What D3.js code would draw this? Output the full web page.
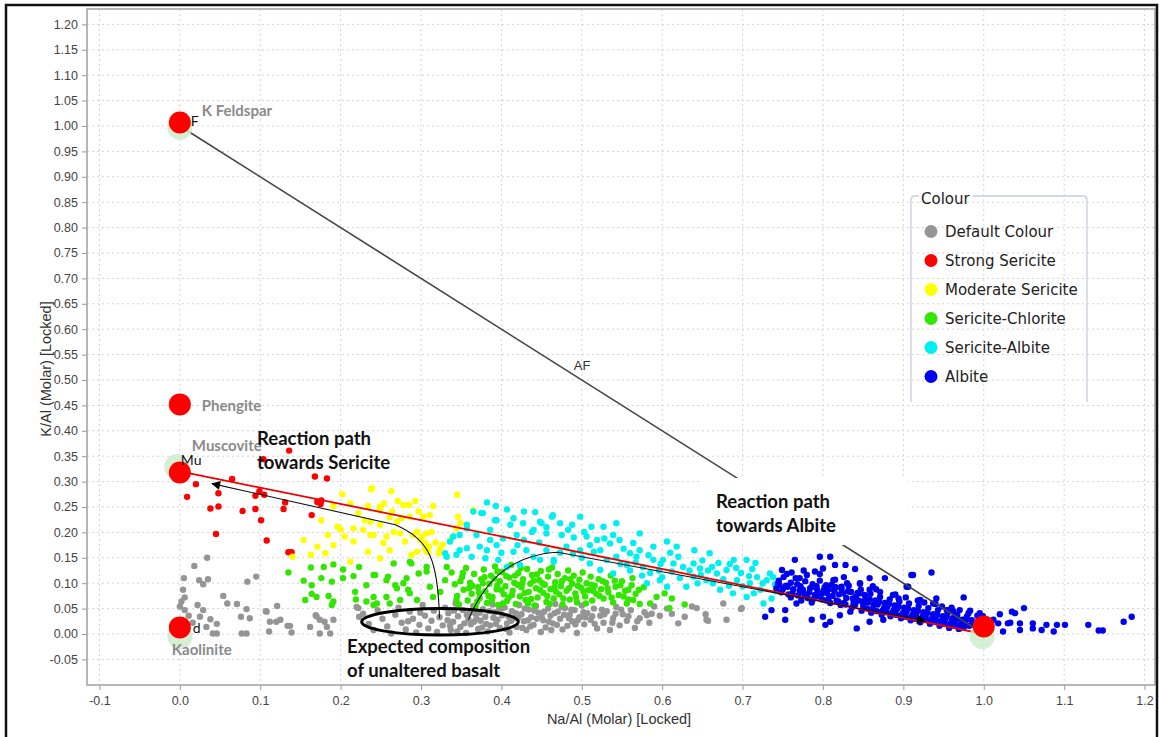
<!DOCTYPE html>
<html>
<head>
<meta charset="utf-8">
<script src="https://cdn.jsdelivr.net/npm/d3@7"></script>
<style>
  body { margin: 0; background: #fff; }
  svg { display: block; }
</style>
</head>
<body>
<svg id="chart" width="1159" height="737"></svg>
<script>
// tick labels
const xTicks = [-0.1, 0.0, 0.1, 0.2, 0.3, 0.4, 0.5, 0.6, 0.7, 0.8, 0.9, 1.0, 1.1, 1.2]
const yTicks = [-0.05, 0.00, 0.05, 0.10, 0.15, 0.20, 0.25, 0.30, 0.35, 0.40, 0.45, 0.50, 0.55,
  0.60, 0.65, 0.70, 0.75, 0.80, 0.85, 0.90, 0.95, 1.00, 1.05, 1.10, 1.15, 1.20]

// legend categories
const categories = ['Default Colour', 'Strong Sericite', 'Moderate Sericite', 'Sericite-Chlorite', 'Sericite-Albite', 'Albite']
const colours = ['#959595', '#ff0000', '#ffff00', '#33e600', '#00f0f0', '#0000ee']

// end members [name, code, x, y]
const minerals = [
  ['K Feldspar', 'F', 0.0, 1.007],
  ['Phengite', '', 0.0, 0.452],
  ['Muscovite', 'Mu', 0.0, 0.318],
  ['Kaolinite', 'd', 0.0, 0.013],
  ['', '', 1.0, 0.015]
]
// ideal positions (pale halo under the red markers)
const halos = [[0.0, 0.997], [-0.004, 0.329], [0.0, -0.005], [0.998, -0.005]]

const defaultPts = [
  [0.034,0.150],[0.018,0.134],[0.005,0.110],[0.024,0.106],[0.029,0.098],[0.035,0.108],[0.004,0.087],[0.006,0.072],
  [0.002,0.064],[0.000,0.054],[0.006,0.047],[0.022,0.057],[0.029,0.047],[0.025,0.034],[0.038,0.029],[0.046,0.020],
  [0.033,0.014],[0.041,0.001],[0.046,0.001],[0.054,0.075],[0.059,0.060],[0.071,0.059],[0.084,0.103],[0.095,0.113],
  [0.083,0.049],[0.076,0.034],[0.087,0.031],[0.077,0.001],[0.083,0.001],[0.108,0.044],[0.112,0.024],[0.111,0.005],
  [0.121,0.055],[0.120,0.024],[0.125,0.028],[0.134,0.016],[0.139,0.003],[0.169,0.037],[0.162,0.014],[0.180,0.024],
  [0.183,0.014],[0.174,0.001],[0.187,0.001],[0.220,0.053],[0.223,0.034],[0.107,0.045],[0.137,0.016],[0.170,0.035],
  [0.174,0.028],[0.191,0.028],[0.222,0.051],[0.016,0.022],[0.011,0.036],
  [0.228,0.040],[0.235,0.020],[0.241,0.008],[0.246,0.047],[0.252,0.030],[0.258,0.015],[0.263,0.001],[0.268,0.038],
  [0.272,0.052],[0.276,0.022],[0.281,0.009],[0.286,0.044],[0.290,0.030],[0.294,0.003],[0.298,0.018],[0.302,0.057],
  [0.305,0.036],[0.309,0.011],[0.313,0.026],[0.316,0.046],[0.320,0.004],[0.323,0.033],[0.327,0.017],[0.330,0.052],
  [0.334,0.041],[0.337,0.008],[0.340,0.024],[0.343,0.060],[0.346,0.035],[0.349,0.014],[0.352,0.047],[0.356,0.002],
  [0.359,0.029],[0.362,0.019],[0.365,0.055],[0.368,0.040],[0.371,0.010],[0.374,0.026],[0.377,0.049],[0.380,0.034],
  [0.383,0.005],[0.386,0.017],[0.389,0.058],[0.392,0.043],[0.395,0.028],[0.398,0.012],[0.401,0.037],[0.404,0.052],
  [0.407,0.021],[0.410,0.003],[0.413,0.045],[0.416,0.031],[0.419,0.014],[0.422,0.057],[0.425,0.039],[0.428,0.025],
  [0.431,0.008],[0.434,0.048],[0.437,0.033],[0.440,0.018],[0.443,0.055],[0.446,0.042],[0.449,0.004],[0.452,0.027],
  [0.455,0.013],[0.458,0.050],[0.461,0.036],[0.464,0.021],[0.467,0.059],[0.470,0.044],[0.473,0.030],[0.476,0.009],
  [0.479,0.051],[0.482,0.016],[0.485,0.038],[0.488,0.025],[0.491,0.047],[0.494,0.002],[0.497,0.033],[0.500,0.056],
  [0.503,0.019],[0.507,0.041],[0.511,0.028],[0.515,0.050],[0.519,0.011],[0.523,0.036],[0.527,0.022],[0.531,0.045],
  [0.535,0.008],[0.539,0.031],[0.543,0.053],[0.547,0.017],[0.551,0.039],[0.556,0.026],[0.561,0.047],[0.566,0.012],
  [0.572,0.031],[0.578,0.043],[0.584,0.022],[0.590,0.054],[0.597,0.036],[0.581,0.037],[0.637,0.054],[0.643,0.051],
  [0.655,0.028],[0.676,0.060],[0.699,0.051],[0.654,0.039],[0.657,0.026],[0.680,0.028],[0.698,0.049],[0.612,0.040],
  [0.620,0.021],[0.606,0.050],[0.628,0.034],[0.333,0.027],[0.341,0.046],[0.354,0.021],[0.361,0.042],[0.369,0.030],
  [0.376,0.013],[0.385,0.045],[0.393,0.020],[0.400,0.050],[0.409,0.034],[0.418,0.041],[0.426,0.012],[0.433,0.027],
  [0.441,0.046],[0.450,0.035],[0.459,0.024],[0.466,0.041],[0.475,0.053],[0.484,0.031],[0.492,0.019],[0.502,0.043],
  [0.513,0.035],[0.525,0.048],[0.542,0.040],
  [0.336,0.016],[0.345,0.005],[0.357,0.038],[0.366,0.024],[0.373,0.042],[0.381,0.020],[0.390,0.032],[0.397,0.047],
  [0.406,0.010],[0.412,0.026],[0.421,0.033],[0.429,0.050],[0.436,0.015],[0.444,0.030],[0.453,0.044],[0.462,0.008],
  [0.469,0.018],[0.478,0.038],[0.487,0.048],[0.495,0.027],[0.504,0.033],[0.516,0.020],[0.528,0.039],[0.538,0.022],
  [0.549,0.048],[0.558,0.035],[0.569,0.025],[0.587,0.040],[0.299,0.042],[0.284,0.025]
]

const strongPts = [
  [0.136,0.361],[0.104,0.344],[0.168,0.310],[0.183,0.306],[0.065,0.305],[0.020,0.295],[0.009,0.270],[0.048,0.277],
  [0.038,0.247],[0.048,0.251],[0.078,0.242],[0.094,0.246],[0.094,0.272],[0.099,0.281],[0.105,0.274],[0.101,0.224],
  [0.131,0.259],[0.129,0.246],[0.171,0.260],[0.175,0.256],[0.164,0.234],[0.045,0.197],[0.108,0.184],[0.135,0.161],
  [0.139,0.161],[0.176,0.263]
]

const moderatePts = [
  [0.202,0.275],[0.238,0.285],[0.263,0.281],[0.212,0.257],[0.234,0.252],[0.254,0.257],[0.293,0.262],[0.315,0.252],
  [0.285,0.254],[0.196,0.211],[0.200,0.206],[0.216,0.208],[0.230,0.224],[0.249,0.215],[0.261,0.230],[0.276,0.228],
  [0.266,0.201],[0.290,0.195],[0.301,0.192],[0.305,0.179],[0.310,0.172],[0.309,0.161],[0.184,0.195],[0.205,0.192],
  [0.216,0.182],[0.237,0.195],[0.280,0.182],[0.295,0.162],[0.154,0.185],[0.163,0.156],[0.171,0.172],[0.181,0.159],
  [0.191,0.175],[0.212,0.142],[0.176,0.224],[0.297,0.241],[0.303,0.231],[0.140,0.152],[0.249,0.251],[0.191,0.252],
  [0.239,0.287],[0.345,0.274],[0.278,0.254],[0.249,0.244],[0.264,0.241],[0.286,0.231],[0.237,0.221],[0.270,0.221],
  [0.311,0.234],[0.346,0.231],[0.349,0.218],[0.344,0.208],[0.228,0.205],[0.241,0.195],[0.257,0.192],[0.274,0.198],
  [0.295,0.201],[0.307,0.198],[0.313,0.201],[0.253,0.179],[0.299,0.185],[0.305,0.169],[0.307,0.162],[0.324,0.169],
  [0.322,0.159],[0.234,0.162],[0.261,0.165],[0.288,0.156],[0.249,0.149],[0.338,0.188],[0.365,0.244],[0.318,0.180],
  [0.327,0.176],[0.222,0.238],[0.271,0.262]
]

const chloritePts = [
  [0.135,0.121],[0.163,0.131],[0.179,0.132],[0.191,0.137],[0.203,0.127],[0.223,0.132],[0.154,0.105],[0.164,0.096],
  [0.176,0.110],[0.189,0.103],[0.203,0.110],[0.216,0.114],[0.156,0.067],[0.164,0.079],[0.170,0.073],[0.185,0.075],
  [0.191,0.064],[0.218,0.083],[0.219,0.068],[0.189,0.057],[0.232,0.096],[0.241,0.116],[0.257,0.106],[0.268,0.096],
  [0.278,0.100],[0.284,0.087],[0.232,0.064],[0.245,0.060],[0.257,0.073],[0.274,0.067],[0.266,0.139],[0.286,0.142],
  [0.307,0.123],[0.297,0.119],[0.311,0.093],[0.315,0.073],[0.324,0.083],[0.330,0.106],[0.332,0.132],[0.243,0.116],
  [0.259,0.113],[0.282,0.110],[0.270,0.090],[0.286,0.080],[0.241,0.073],[0.295,0.067],[0.241,0.057],[0.261,0.060],
  [0.288,0.139],[0.307,0.132],
  [0.338,0.121],[0.342,0.098],[0.345,0.075],[0.347,0.058],[0.351,0.112],[0.353,0.087],[0.356,0.130],[0.358,0.066],
  [0.361,0.101],[0.363,0.079],[0.366,0.118],[0.368,0.055],[0.371,0.092],[0.373,0.071],[0.375,0.108],[0.378,0.127],
  [0.380,0.084],[0.382,0.061],[0.385,0.099],[0.387,0.115],[0.389,0.073],[0.392,0.133],[0.394,0.088],[0.396,0.057],
  [0.398,0.104],[0.401,0.122],[0.403,0.078],[0.405,0.094],[0.407,0.065],[0.410,0.111],[0.412,0.136],[0.414,0.085],
  [0.416,0.101],[0.418,0.059],[0.421,0.120],[0.423,0.074],[0.425,0.092],[0.427,0.108],[0.430,0.067],[0.432,0.128],
  [0.434,0.083],[0.436,0.099],[0.438,0.116],[0.441,0.056],[0.443,0.090],[0.445,0.072],[0.447,0.106],[0.449,0.124],
  [0.452,0.081],[0.454,0.097],[0.456,0.063],[0.458,0.113],[0.461,0.088],[0.463,0.131],[0.465,0.070],[0.467,0.102],
  [0.470,0.118],[0.472,0.078],[0.474,0.094],[0.476,0.058],[0.479,0.110],[0.481,0.085],[0.483,0.125],[0.485,0.068],
  [0.488,0.099],[0.490,0.115],[0.492,0.080],[0.494,0.062],[0.497,0.107],[0.499,0.091],[0.501,0.121],[0.504,0.074],
  [0.506,0.100],[0.508,0.086],[0.511,0.113],[0.513,0.066],[0.516,0.095],[0.518,0.079],[0.521,0.108],[0.524,0.088],
  [0.527,0.070],[0.530,0.101],[0.533,0.082],[0.536,0.115],[0.539,0.062],[0.542,0.093],[0.546,0.077],[0.550,0.104],
  [0.554,0.085],[0.558,0.068],[0.562,0.096],[0.567,0.079],[0.572,0.059],
  [0.349,0.104],[0.360,0.090],[0.370,0.064],[0.377,0.100],[0.384,0.075],[0.391,0.109],[0.400,0.086],[0.409,0.072],
  [0.417,0.115],[0.426,0.100],[0.433,0.060],[0.440,0.105],[0.448,0.087],[0.457,0.075],[0.466,0.092],[0.475,0.104],
  [0.484,0.090],[0.493,0.072],[0.502,0.084],[0.512,0.097],[0.522,0.075],[0.532,0.090],[0.541,0.105],[0.552,0.074],
  [0.563,0.110],[0.558,0.087],[0.564,0.067],[0.593,0.073],[0.603,0.080],[0.609,0.051],[0.585,0.060],[0.612,0.070],
  [0.628,0.058],[0.577,0.092],
  [0.344,0.067],[0.352,0.120],[0.364,0.095],[0.372,0.082],[0.379,0.112],[0.388,0.066],[0.395,0.096],[0.402,0.060],
  [0.406,0.114],[0.413,0.077],[0.420,0.097],[0.429,0.081],[0.437,0.069],[0.444,0.117],[0.451,0.100],[0.460,0.059],
  [0.468,0.083],[0.477,0.070],[0.486,0.108],[0.495,0.095],[0.505,0.060],[0.514,0.085],[0.526,0.104],[0.537,0.072],
  [0.548,0.096],[0.556,0.060],[0.571,0.087],[0.459,0.127],[0.424,0.130],[0.395,0.123]
]

const sericiteAlbitePts = [
  [0.382,0.259],[0.407,0.245],[0.442,0.240],[0.464,0.234],[0.375,0.238],[0.394,0.224],[0.411,0.215],[0.427,0.218],
  [0.448,0.221],[0.473,0.218],[0.483,0.205],[0.357,0.208],[0.369,0.195],[0.386,0.185],[0.402,0.188],[0.419,0.195],
  [0.438,0.201],[0.456,0.198],[0.340,0.192],[0.348,0.165],[0.332,0.152],[0.363,0.152],[0.382,0.165],[0.396,0.146],
  [0.415,0.162],[0.431,0.165],[0.448,0.146],[0.465,0.146],[0.481,0.172],[0.498,0.165],[0.512,0.211],[0.527,0.211],
  [0.506,0.192],[0.519,0.185],[0.539,0.195],[0.547,0.185],[0.523,0.165],[0.510,0.139],[0.531,0.146],[0.543,0.152],
  [0.560,0.159],[0.564,0.179],[0.572,0.165],[0.589,0.172],[0.606,0.182],[0.618,0.172],[0.523,0.126],[0.539,0.119],
  [0.556,0.136],[0.576,0.132],[0.589,0.146],[0.601,0.146],[0.614,0.139],[0.626,0.132],[0.639,0.139],[0.647,0.129],
  [0.581,0.100],[0.597,0.106],[0.606,0.093],[0.630,0.093],[0.639,0.113],[0.655,0.106],[0.668,0.119],[0.680,0.126],
  [0.689,0.146],[0.705,0.146],[0.693,0.106],[0.709,0.100],[0.672,0.087],[0.688,0.080],[0.705,0.073],[0.722,0.087],
  [0.730,0.106],[0.734,0.119],[0.726,0.060],[0.659,0.159],[0.543,0.218],[0.572,0.198],[0.498,0.231],
  [0.365,0.241],[0.377,0.238],[0.392,0.224],[0.357,0.215],[0.348,0.195],[0.336,0.182],[0.330,0.159],[0.344,0.156],
  [0.357,0.169],[0.373,0.172],[0.380,0.149],[0.394,0.175],[0.440,0.205],[0.450,0.218],[0.463,0.231],[0.440,0.152],
  [0.456,0.165],[0.465,0.142],[0.423,0.136],[0.407,0.132],
  [0.620,0.152],[0.634,0.125],[0.650,0.145],[0.662,0.132],[0.676,0.108],[0.684,0.138],[0.698,0.120],[0.712,0.128],
  [0.718,0.112],[0.700,0.094],[0.714,0.080],[0.740,0.098],[0.738,0.112],[0.663,0.100],[0.648,0.116],[0.612,0.123],
  [0.596,0.125],[0.583,0.155],[0.567,0.141],[0.552,0.168],[0.535,0.178],[0.490,0.190],[0.475,0.195],[0.500,0.150],
  [0.489,0.158],[0.515,0.162],[0.503,0.201],[0.428,0.241],[0.415,0.228],[0.393,0.252],[0.447,0.180],[0.428,0.185],
  [0.473,0.160],[0.742,0.084],[0.736,0.070],[0.640,0.165],[0.610,0.160],[0.598,0.138],[0.575,0.115],[0.560,0.125],
  [0.600,0.112],[0.622,0.110],[0.644,0.100],[0.657,0.125],[0.670,0.140],[0.692,0.130],[0.708,0.114],[0.725,0.100],
  [0.716,0.140],[0.683,0.095],[0.585,0.120],[0.568,0.152],[0.548,0.138],[0.528,0.188],[0.510,0.175],[0.488,0.215],
  [0.456,0.210],[0.420,0.175],[0.400,0.160],[0.386,0.205]
]

const albitePts = [
  [0.765,0.146],[0.749,0.126],[0.796,0.152],[0.809,0.152],[0.815,0.136],[0.800,0.129],[0.790,0.123],[0.828,0.136],
  [0.840,0.128],[0.780,0.116],[0.771,0.110],[0.761,0.121],[0.935,0.121],[0.910,0.116],[0.858,0.110],[0.877,0.110],
  [0.813,0.106],[0.830,0.100],[0.846,0.100],[0.975,0.072],[0.906,0.093],[0.941,0.070],[0.956,0.047],[0.970,0.047],
  [0.981,0.041],[0.995,0.041],[1.020,0.039],[1.035,0.044],[1.039,0.041],[1.050,0.051],[1.045,0.021],[1.061,0.021],
  [1.078,0.018],[1.087,0.005],[1.101,0.018],[1.130,0.018],[1.143,0.007],[1.174,0.024],[1.184,0.034],[1.072,0.008],
  [1.061,0.011],[1.024,0.005],[1.018,0.021],[1.030,0.021],[1.012,0.028],[1.045,0.008],[1.033,0.022],[1.091,0.018],
  [1.148,0.007],[0.979,0.034],[0.746,0.096],[0.775,0.087],[0.788,0.093],[0.804,0.096],[0.823,0.093],[0.834,0.083],
  [0.846,0.080],[0.858,0.087],[0.871,0.083],[0.887,0.077],[0.904,0.093],[0.921,0.067],[0.937,0.060],[0.954,0.047],
  [0.966,0.037],[0.736,0.047],[0.753,0.028],[0.753,0.047],[0.767,0.060],[0.786,0.028],[0.800,0.034],[0.809,0.024],
  [0.821,0.037],[0.834,0.044],[0.842,0.011],[0.858,0.024],[0.875,0.028],[0.728,0.034],[0.803,0.018],[0.912,0.116],
  [0.742,0.090],[0.745,0.105],[0.748,0.082],[0.751,0.112],[0.754,0.095],[0.757,0.078],[0.760,0.101],[0.763,0.088],
  [0.766,0.110],[0.769,0.076],[0.772,0.094],[0.775,0.083],[0.778,0.104],[0.781,0.071],[0.784,0.090],[0.787,0.098],
  [0.790,0.077],[0.793,0.086],[0.796,0.105],[0.799,0.068],[0.802,0.092],[0.805,0.080],[0.808,0.073],[0.811,0.097],
  [0.814,0.085],[0.817,0.066],[0.820,0.078],[0.823,0.089],[0.826,0.061],[0.829,0.071],[0.832,0.095],[0.835,0.083],
  [0.838,0.060],[0.841,0.074],[0.844,0.066],[0.847,0.087],[0.850,0.055],[0.853,0.070],[0.856,0.062],[0.859,0.079],
  [0.862,0.050],[0.865,0.066],[0.868,0.058],[0.871,0.073],[0.874,0.046],[0.877,0.061],[0.880,0.053],[0.883,0.068],
  [0.886,0.042],[0.889,0.056],[0.892,0.049],[0.895,0.064],[0.898,0.038],[0.901,0.052],[0.904,0.044],[0.907,0.060],
  [0.910,0.034],[0.913,0.047],[0.916,0.040],[0.919,0.055],[0.922,0.030],[0.925,0.043],[0.928,0.036],[0.931,0.051],
  [0.934,0.027],[0.937,0.039],[0.940,0.032],[0.943,0.047],[0.946,0.024],[0.949,0.035],[0.952,0.029],[0.955,0.042],
  [0.958,0.020],[0.961,0.031],[0.964,0.026],[0.967,0.038],[0.970,0.018],[0.973,0.028],[0.976,0.023],[0.979,0.034],
  [0.982,0.016],[0.985,0.027],
  [0.760,0.072],[0.773,0.066],[0.786,0.062],[0.798,0.079],[0.809,0.061],[0.822,0.057],[0.836,0.052],[0.848,0.046],
  [0.860,0.042],[0.873,0.038],[0.884,0.035],[0.897,0.031],[0.909,0.027],[0.921,0.023],[0.933,0.020],[0.945,0.016],
  [0.957,0.012],[0.969,0.010],[0.815,0.107],[0.846,0.099],[0.866,0.088],[0.890,0.078],[0.903,0.072],[0.918,0.066],
  [0.940,0.059],[0.960,0.052],[0.983,0.046],[0.995,0.030],[0.999,0.035],
  [0.744,0.099],[0.750,0.088],[0.756,0.093],[0.762,0.080],[0.768,0.098],[0.771,0.085],[0.777,0.075],[0.783,0.082],
  [0.789,0.070],[0.792,0.094],[0.795,0.074],[0.801,0.085],[0.804,0.066],[0.807,0.088],[0.812,0.075],[0.816,0.092],
  [0.819,0.064],[0.825,0.080],[0.828,0.058],[0.831,0.084],[0.837,0.070],[0.840,0.058],[0.843,0.081],[0.849,0.064],
  [0.852,0.077],[0.855,0.050],[0.858,0.068],[0.863,0.057],[0.867,0.045],[0.870,0.063],[0.876,0.052],[0.879,0.043],
  [0.882,0.059],[0.888,0.047],[0.891,0.038],[0.894,0.054],[0.900,0.043],[0.903,0.034],[0.906,0.050],[0.912,0.039],
  [0.915,0.030],[0.918,0.046],[0.924,0.035],[0.927,0.028],[0.930,0.042],[0.936,0.031],[0.939,0.024],[0.942,0.038],
  [0.948,0.027],[0.951,0.020],[0.954,0.034],[0.960,0.024],[0.963,0.017],[0.966,0.030],[0.972,0.021],[0.975,0.013],
  [0.978,0.027],[0.988,0.019],[0.992,0.036],[0.962,0.045],[0.948,0.054],[0.926,0.062],[0.894,0.070],[0.862,0.094],
  [0.826,0.112],[0.796,0.118],[0.776,0.125],[0.755,0.118]
]

const seriesPts = [defaultPts, strongPts, moderatePts, chloritePts, sericiteAlbitePts, albitePts]

// reference lines and annotation paths, in data units
const afLine = [[0.0, 1.0], [1.0, 0.0]]
const muAbLine = [[0.0, 0.32], [1.0, 0.0]]
const sericitePath = [[0.323, 0.031], [0.321, 0.146], [0.311, 0.185], [0.268, 0.215], [0.040, 0.296]]
const albitePath = [[0.359, 0.028], [0.376, 0.092], [0.405, 0.155], [0.470, 0.161], [0.927, 0.026]]
const basaltEllipse = { cx: 0.3236, cy: 0.024, rx: 0.0974, ry: 0.026 }

const svg = d3.select('#chart')
const W = 1159, H = 737
const plot = { left: 87, top: 9, right: 1155, bottom: 685 }

const x = d3.scaleLinear().domain([-0.1155, 1.213]).range([plot.left, plot.right])
const y = d3.scaleLinear().domain([-0.1004, 1.2303]).range([plot.bottom, plot.top])

svg.append('rect').attr('width', W).attr('height', H).attr('fill', '#fff')

// grid
const grid = svg.append('g').attr('stroke', '#d4d4d4').attr('stroke-dasharray', '2,3').attr('stroke-width', 1)
grid.selectAll('.gx').data(xTicks).enter().append('line')
  .attr('x1', d => x(d)).attr('x2', d => x(d)).attr('y1', plot.top).attr('y2', plot.bottom)
grid.selectAll('.gy').data(yTicks).enter().append('line')
  .attr('y1', d => y(d)).attr('y2', d => y(d)).attr('x1', plot.left).attr('x2', plot.right)

// axes
const xAxis = d3.axisBottom(x).tickValues(xTicks).tickSize(5).tickPadding(6).tickFormat(d3.format('.1f'))
const yAxis = d3.axisLeft(y).tickValues(yTicks).tickSize(5).tickPadding(4).tickFormat(d3.format('.2f'))
const gx = svg.append('g').attr('transform', `translate(0,${plot.bottom})`).call(xAxis)
const gy = svg.append('g').attr('transform', `translate(${plot.left},0)`).call(yAxis)
;[gx, gy].forEach(g => {
  g.select('.domain').remove()
  g.selectAll('.tick line').attr('stroke', '#999')
  g.selectAll('.tick text').attr('fill', '#444').style('font', '12.5px "Liberation Sans", Arial, sans-serif')
})
gx.selectAll('.tick text').text(d => d3.format('.1f')(d).replace('−', '-'))
gy.selectAll('.tick text').text(d => d3.format('.2f')(d).replace('−', '-'))

svg.append('rect')
  .attr('x', plot.left).attr('y', plot.top)
  .attr('width', plot.right - plot.left).attr('height', plot.bottom - plot.top)
  .attr('fill', 'none').attr('stroke', '#a6a6a6').attr('stroke-width', 1.6)

svg.append('text')
  .attr('x', 619).attr('y', 724)
  .attr('text-anchor', 'middle').attr('fill', '#333')
  .style('font', '14.5px "Liberation Sans", Arial, sans-serif')
  .text('Na/Al (Molar) [Locked]')
svg.append('text')
  .attr('transform', 'translate(51,369) rotate(-90)')
  .attr('text-anchor', 'middle').attr('fill', '#333')
  .style('font', '14.5px "Liberation Sans", Arial, sans-serif')
  .text('K/Al (Molar) [Locked]')

const line = d3.line().x(d => x(d[0])).y(d => y(d[1]))

// scatter
const pts = svg.append('g')
seriesPts.forEach((arr, i) => {
  pts.append('g').selectAll('circle').data(arr).enter().append('circle')
    .attr('cx', d => x(d[0])).attr('cy', d => y(d[1])).attr('r', 3.2)
    .attr('fill', colours[i])
})

// K feldspar - albite line
svg.append('path').attr('d', line(afLine)).attr('fill', 'none')
  .attr('stroke', '#444').attr('stroke-width', 1.6)
svg.append('text').attr('x', x(0.49)).attr('y', y(0.52)).attr('fill', '#333')
  .style('font', '13px "Liberation Sans", Arial, sans-serif').text('AF')

// muscovite - albite line
svg.append('path').attr('d', line(muAbLine)).attr('fill', 'none')
  .attr('stroke', '#ee0000').attr('stroke-width', 1.8)

// reaction path arrows
svg.append('defs').append('marker')
  .attr('id', 'head').attr('viewBox', '0 0 10 10').attr('refX', 9).attr('refY', 5)
  .attr('markerWidth', 11).attr('markerHeight', 9).attr('markerUnits', 'userSpaceOnUse')
  .attr('orient', 'auto')
  .append('path').attr('d', 'M0,0 L10,5 L0,10 Z').attr('fill', '#000')

const curve = pts4 => {
  const p = pts4.map(d => [x(d[0]), y(d[1])])
  return `M${p[0]}C${p[1]} ${p[2]} ${p[3]}L${p[4]}`
}
svg.append('path').attr('d', curve(sericitePath)).attr('fill', 'none')
  .attr('stroke', '#111').attr('stroke-width', 1.1).attr('marker-end', 'url(#head)')
svg.append('path').attr('d', curve(albitePath)).attr('fill', 'none')
  .attr('stroke', '#111').attr('stroke-width', 1.1).attr('marker-end', 'url(#head)')

// basalt ellipse
svg.append('ellipse')
  .attr('cx', x(basaltEllipse.cx)).attr('cy', y(basaltEllipse.cy))
  .attr('rx', x(basaltEllipse.rx) - x(0)).attr('ry', y(0) - y(basaltEllipse.ry))
  .attr('fill', 'none').attr('stroke', '#000').attr('stroke-width', 3)

// end members
svg.append('g').selectAll('circle').data(halos).enter().append('circle')
  .attr('cx', d => x(d[0])).attr('cy', d => y(d[1])).attr('r', 12.5)
  .attr('fill', '#cdeccd').attr('opacity', 0.85)
svg.append('g').selectAll('circle').data(minerals).enter().append('circle')
  .attr('cx', d => x(d[2])).attr('cy', d => y(d[3])).attr('r', 11)
  .attr('fill', '#ff0000')

const nameOffsets = { 'K Feldspar': [22, -6], 'Phengite': [22, 7], 'Muscovite': [12, -21], 'Kaolinite': [-8, 28] }
const codeOffsets = { 'F': [11, 4], 'Mu': [1, -7], 'd': [13, 6] }
minerals.forEach(m => {
  if (m[0]) {
    const o = nameOffsets[m[0]]
    svg.append('text').attr('x', x(m[2]) + o[0]).attr('y', y(m[3]) + o[1])
      .attr('fill', '#8a8a8a').style('font', 'bold 15px Lato, "Open Sans", sans-serif').text(m[0])
  }
  if (m[1]) {
    const o = codeOffsets[m[1]]
    svg.append('text').attr('x', x(m[2]) + o[0]).attr('y', y(m[3]) + o[1])
      .attr('fill', '#111').style('font', '14px Lato, "Open Sans", sans-serif').text(m[1])
  }
})

// annotation text boxes
const boldFont = 'bold 18.5px Lato, "Open Sans", sans-serif'
function note(lines, bx, by, bw, bh, tx, ty, fill) {
  if (fill) svg.append('rect').attr('x', bx).attr('y', by).attr('width', bw).attr('height', bh).attr('fill', '#fff')
  lines.forEach((t, i) => {
    svg.append('text').attr('x', tx).attr('y', ty + i * 23.5).attr('fill', '#111')
      .style('font', boldFont).text(t)
  })
}
note(['Reaction path', 'towards Sericite'], 0, 0, 0, 0, 257, 445, false)
note(['Reaction path', 'towards Albite'], 702, 478, 206, 67, 716, 508, true)
note(['Expected composition', 'of unaltered basalt'], 342, 637, 200, 47, 347, 653, true)

// legend
const lg = svg.append('g')
const lgX = 911, lgY = 196, lgW = 176, lgB = 402
lg.append('path')
  .attr('d', `M${lgX + 8},${lgY} L${lgX + 4},${lgY} Q${lgX},${lgY} ${lgX},${lgY + 4} L${lgX},${lgB}` +
    ` M${lgX + lgW},${lgB} L${lgX + lgW},${lgY + 4} Q${lgX + lgW},${lgY} ${lgX + lgW - 4},${lgY} L${lgX + 62},${lgY}`)
  .attr('fill', 'none').attr('stroke', '#c3cfdc').attr('stroke-width', 1.3)
lg.append('text').attr('x', lgX + 10).attr('y', lgY + 8).attr('fill', '#222')
  .style('font', '15px "DejaVu Sans", Verdana, sans-serif').text('Colour')
const item = lg.selectAll('.item').data(categories).enter().append('g')
  .attr('transform', (d, i) => `translate(${lgX + 20},${231.5 + i * 29})`)
item.append('circle').attr('r', 6.5).attr('fill', (d, i) => colours[i])
item.append('text').attr('x', 14).attr('y', 5.5).attr('fill', '#222')
  .style('font', '15px "DejaVu Sans", Verdana, sans-serif').text(d => d)

// outer frame
svg.append('path').attr('d', `M6,${H + 5} L6,5 L1157,5 L1157,${H + 5}`)
  .attr('fill', 'none').attr('stroke', '#111').attr('stroke-width', 2.5)
</script>
</body>
</html>
